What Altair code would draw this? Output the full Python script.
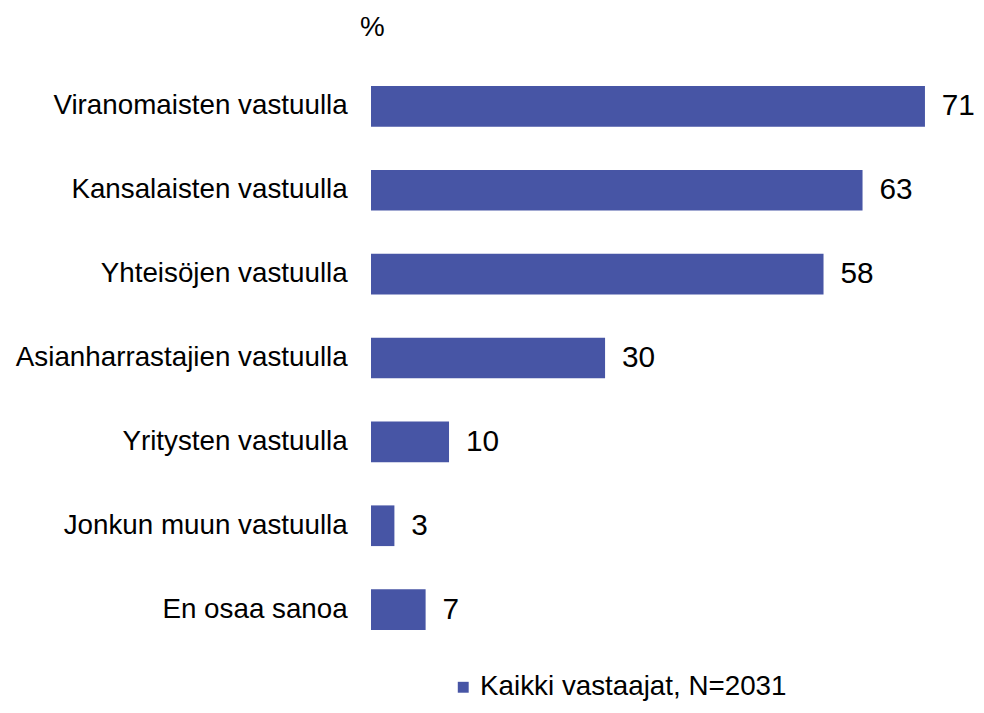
import altair as alt
import pandas as pd

categories = [
    "Viranomaisten vastuulla",
    "Kansalaisten vastuulla",
    "Yhteisöjen vastuulla",
    "Asianharrastajien vastuulla",
    "Yritysten vastuulla",
    "Jonkun muun  vastuulla",
    "En osaa sanoa",
]
values = [71, 63, 58, 30, 10, 3, 7]
series_name = "Kaikki vastaajat, N=2031"

df = pd.DataFrame({"cat": categories, "val": values, "series": [series_name] * len(values)})

FONT = "Liberation Sans"
COLOR = "#4755A5"

y = alt.Y("cat:N", sort=categories, title=None,
          scale=alt.Scale(paddingInner=0.515, paddingOuter=0.2575),
          axis=alt.Axis(labelFontSize=28, labelFont=FONT, labelColor="black",
                        ticks=False, domain=False, labelPadding=24, labelLimit=400))
x = alt.X("val:Q", title=None, scale=alt.Scale(domain=[0, 75], nice=False),
          axis=None)

bars = alt.Chart(df).mark_bar().encode(
    x=x, y=y,
    color=alt.Color("series:N", scale=alt.Scale(range=[COLOR]),
                    legend=alt.Legend(title=None, orient="none", legendX=79, legendY=614,
                                      padding=0,
                                      labelFont=FONT, labelFontSize=28, labelColor="black",
                                      symbolType="square", symbolSize=121,
                                      symbolStrokeWidth=0, labelOffset=3, labelLimit=500)),
)

labels = alt.Chart(df).mark_text(align="left", baseline="middle", dx=17,
                                 fontSize=30, font=FONT, color="black").encode(
    x=x, y=y, text="val:Q")

chart = alt.layer(bars, labels).properties(
    width=590, height=592,
    autosize=alt.AutoSizeParams(type="none"),
    padding={"left": 366, "top": 54, "right": 20, "bottom": 51},
    title=alt.TitleParams("%", anchor="start", frame="group", font=FONT, fontSize=28,
                          fontWeight="normal", color="black", offset=23, dx=-11),
).configure_view(stroke=None)

chart.save("out.html", embed_options={"renderer": "svg", "actions": False})
